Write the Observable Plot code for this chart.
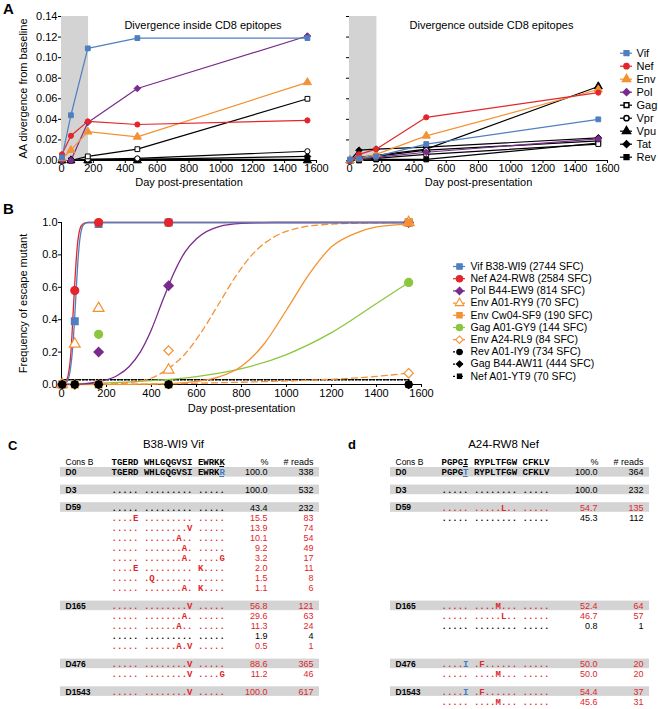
<!DOCTYPE html>
<html><head><meta charset="utf-8">
<script src="https://cdn.jsdelivr.net/npm/d3@7"></script>
<script src="https://cdn.jsdelivr.net/npm/@observablehq/plot@0.6"></script>
<style>
body{margin:0;background:#fff;}
#fig{position:relative;width:658px;height:709px;overflow:hidden;font-family:"Liberation Sans",Arial,Helvetica,sans-serif;}
.plet{position:absolute;font-weight:bold;color:#000;line-height:1;}
</style></head><body><div id="fig"></div>
<script>
// ---------------- DATA ----------------
const days = [3, 59, 165, 476, 1543];
const genes = ["Vif","Nef","Env","Pol","Gag","Vpr","Vpu","Tat","Rev"];
const xTicks = [0,200,400,600,800,1000,1200,1400,1600];
const yTicksA = [0,0.02,0.04,0.06,0.08,0.10,0.12,0.14];
const yTicksB = [0,0.2,0.4,0.6,0.8,1.0];
const shadeWindow = [0, 170];

// divergence inside CD8 epitopes
const inVif = [0.003, 0.044, 0.109, 0.119, 0.119];
const inNef = [0.006, 0.024, 0.038, 0.035, 0.039];
const inEnv = [0.002, 0.010, 0.028, 0.023, 0.076];
const inPol = [0, 0, 0.037, 0.070, 0.121];
const inGag = [0, 0, 0.004, 0.011, 0.060];
const inVpr = [0, 0, 0.001, 0.002, 0.009];
const inVpu = [0, 0, 0, 0, 0];
const inTat = [0, 0, 0.001, 0.001, 0.004];
const inRev = [0, 0, 0, 0.001, 0.001];
// divergence outside CD8 epitopes
const outVif = [0.001, 0.002, 0.004, 0.016, 0.040];
const outNef = [0, 0.006, 0.011, 0.042, 0.066];
const outEnv = [0, 0.002, 0.006, 0.024, 0.069];
const outPol = [0, 0.002, 0.003, 0.008, 0.021];
const outGag = [0, 0.001, 0.002, 0.006, 0.016];
const outVpr = [0, 0.002, 0.004, 0.010, 0.019];
const outVpu = [0, 0.003, 0.005, 0.011, 0.072];
const outTat = [0, 0.010, 0.011, 0.013, 0.022];
const outRev = [0, 0, 0.001, 0.001, 0.017];

// panel B: escape-mutant frequencies
const epitopes = ["Vif B38-WI9 (2744 SFC)","Nef A24-RW8 (2584 SFC)","Pol B44-EW9 (814 SFC)","Env A01-RY9 (70 SFC)","Env Cw04-SF9 (190 SFC)","Gag A01-GY9 (144 SFC)","Env A24-RL9 (84 SFC)","Rev A01-IY9 (734 SFC)","Gag B44-AW11 (444 SFC)","Nef A01-YT9 (70 SFC)"];
const escVif   = [0, 0.39, 0.99, 1.0, 1.0];
const escNef   = [0, 0.58, 1.0, 1.0, 1.0];
const escPol   = [0, 0, 0.20, 0.61, 1.0];
const escEnvRY = [0, 0.25, 0.47, 0.09, 1.0];
const escEnvSF = [0, 0, 0, 0, 1.0];
const escGagGY = [0, 0, 0.31, 0, 0.63];
const escEnvRL = [0, 0, 0, 0.21, 0.07];
const escRev   = [0, 0, 0, 0, 0];
const escGagAW = [0, 0, 0, 0, 0];
const escNefYT = [0, 0, 0, 0, 0];
// fitted curves: [day, frequency]
const fitVif = [[0,0],[20,0.01],[35,0.06],[48,0.2],[58,0.4],[66,0.6],[75,0.8],[85,0.93],[100,0.99],[120,1],[1543,1]];
const fitNef = [[0,0],[15,0.01],[30,0.06],[42,0.2],[52,0.45],[60,0.65],[70,0.85],[82,0.96],[95,0.99],[115,1],[1543,1]];
const fitPol = [[0,0],[100,0.004],[165,0.017],[250,0.057],[300,0.11],[350,0.2],[400,0.34],[450,0.52],[500,0.69],[550,0.82],[600,0.9],[700,0.975],[800,0.994],[950,1],[1543,1]];
const fitEnvRY = [[0,0],[200,0.003],[300,0.012],[400,0.04],[476,0.1],[550,0.19],[620,0.32],[700,0.5],[780,0.68],[860,0.82],[950,0.915],[1050,0.965],[1200,0.99],[1400,0.998],[1543,1]];
const fitEnvSF = [[0,0],[300,0.001],[500,0.007],[600,0.019],[700,0.047],[800,0.113],[900,0.25],[1000,0.46],[1100,0.68],[1200,0.85],[1300,0.93],[1400,0.973],[1543,0.99]];
const fitGagGY = [[0,0.003],[200,0.01],[400,0.024],[600,0.049],[800,0.098],[1000,0.185],[1200,0.32],[1400,0.5],[1543,0.63]];
const fitEnvRL = [[0,0],[400,0.003],[600,0.008],[800,0.014],[1000,0.022],[1200,0.032],[1400,0.05],[1543,0.07]];
const fitBlack = [[0,0.03],[1543,0.03]];

// panel C table
const cTitle = "B38-WI9 Vif";
const cCons = "TGERD WHLGQGVSI EWRKK";
const cLabels = ["D0","D3","D59","","","","","","","","","D165","","","","","D476","","D1543"];
const cSeqs = ["TGERD WHLGQGVSI EWRKR","..... ......... .....","..... ......... .....","....E ......... .....","..... ........V .....","..... ......A.. .....","..... .......A. .....","..... .......A. ....G","....E ......... K....","..... .Q....... .....","..... .......A. K....","..... ........V .....","..... .......A. .....","..... ......A.. .....","..... ......... .....","..... ......A.V .....","..... ........V .....","..... ........V ....G","..... ........V ....."];
const cPct = ["100.0","100.0","43.4","15.5","13.9","10.1","9.2","3.2","2.0","1.5","1.1","56.8","29.6","11.3","1.9","0.5","88.6","11.2","100.0"];
const cReads = [338,532,232,83,74,54,49,17,11,8,6,121,63,24,4,1,365,46,617];
const cTone = ["k","k","k","r","r","r","r","r","r","r","r","r","r","r","k","r","r","r","r"];
const cMarks = [{row:-1, idx:20, blue:false, under:true},{row:0, idx:20, blue:true, under:true}];
// panel d table
const dTitle = "A24-RW8 Nef";
const dCons = "PGPGI RYPLTFGW CFKLV";
const dLabels = ["D0","D3","D59","","D165","","","D476","","D1543",""];
const dSeqs = ["PGPGT RYPLTFGW CFKLV","..... ........ .....","..... .....L.. .....","..... ........ .....","..... ....M... .....","..... .....L.. .....","..... ........ .....","....I .F...... .....","..... ....M... .....","....I .F...... .....","..... ....M... ....."];
const dPct = ["100.0","100.0","54.7","45.3","52.4","46.7","0.8","50.0","50.0","54.4","45.6"];
const dReads = [364,232,135,112,64,57,1,20,20,37,31];
const dTone = ["k","k","r","k","r","r","k","r","r","r","r"];
const dMarks = [{row:-1, idx:4, blue:false, under:true},{row:0, idx:4, blue:true, under:true},{row:7, idx:4, blue:true, under:false},{row:9, idx:4, blue:true, under:false}];

// ---------------- STYLE ----------------
const SANS = "'Liberation Sans', Arial, Helvetica, sans-serif";
const MONO = "'Liberation Mono', 'Courier New', monospace";
const BLUE = "#4f7fc0", RED = "#e3262b", ORANGE = "#f39232", PURPLE = "#7a2a8c", GREEN = "#8cc63f";
const geneStyle = {
  Vif:{color:BLUE, symbol:"square", open:false},
  Nef:{color:RED, symbol:"circle", open:false},
  Env:{color:ORANGE, symbol:"triangle", open:false},
  Pol:{color:PURPLE, symbol:"diamond2", open:false},
  Gag:{color:"#000", symbol:"square", open:true},
  Vpr:{color:"#000", symbol:"circle", open:true},
  Vpu:{color:"#000", symbol:"triangle", open:false},
  Tat:{color:"#000", symbol:"diamond2", open:false},
  Rev:{color:"#000", symbol:"square", open:false}
};
const symR = {square:2.7, circle:2.6, triangle:3.0, diamond2:3.0};
const intFmt = d => String(d);

const fig = document.getElementById("fig");
function place(el, left, top){ el.style.position="absolute"; el.style.left=left+"px"; el.style.top=top+"px"; fig.appendChild(el); }
function letter(t, left, top, size){ const d=document.createElement("div"); d.className="plet"; d.textContent=t; d.style.fontSize=size+"px"; place(d,left,top); }

// ---------------- PANEL A ----------------
function divPlot(series, o){
  const rows = [];
  genes.forEach((g,i)=>series[i].forEach((v,j)=>rows.push({gene:g, day:days[j], v})));
  const order = genes.slice().reverse();
  const marks = [
    Plot.rect([shadeWindow], {x1:d=>d[0], x2:d=>d[1], y1:yTicksA[0], y2:yTicksA[yTicksA.length-1], fill:"#d3d3d3"})
  ];
  order.forEach(g=>{
    const st = geneStyle[g];
    marks.push(Plot.line(rows.filter(r=>r.gene===g), {x:"day", y:"v", stroke:st.color, strokeWidth:1.2}));
  });
  order.forEach(g=>{
    const st = geneStyle[g];
    marks.push(Plot.dot(rows.filter(r=>r.gene===g), {x:"day", y:"v", symbol:st.symbol, r:symR[st.symbol], fill:st.open?"#fff":st.color, stroke:st.color, strokeWidth:1}));
  });
  marks.push(Plot.text([o.title], {text:d=>d, frameAnchor:"top", dx:o.titleDx, dy:5, fontSize:11}));
  marks.push(Plot.text(["Day post-presentation"], {text:d=>d, frameAnchor:"bottom", dy:25, fontSize:11}));
  if (o.ylabel) marks.push(Plot.text([o.ylabel], {text:d=>d, frameAnchor:"left", textAnchor:"middle", dx:-38, rotate:-90, fontSize:11}));
  return Plot.plot({
    width:o.width, height:195, marginLeft:o.ml, marginRight:o.mr, marginTop:16, marginBottom:35,
    style:{fontFamily:SANS, fontSize:"11px", background:"transparent", overflow:"visible"},
    x:{domain:[0,1600], ticks:xTicks, tickFormat:intFmt, tickSize:3, tickPadding:1, line:true, label:null},
    y:{domain:[0,0.14], ticks:yTicksA, tickSize:3, tickPadding:1, line:true, label:null,
       tickFormat: o.ylabel ? d3.format(".2f") : ()=>""},
    marks
  });
}
place(divPlot([inVif,inNef,inEnv,inPol,inGag,inVpr,inVpu,inTat,inRev],
  {width:330, ml:61, mr:14, title:"Divergence inside CD8 epitopes", titleDx:14, ylabel:"AA divergence from baseline"}), 0, 0);
place(divPlot([outVif,outNef,outEnv,outPol,outGag,outVpr,outVpu,outTat,outRev],
  {width:328, ml:19, mr:51, title:"Divergence outside CD8 epitopes", titleDx:13, ylabel:null}), 330, 0);

// legend A
(function(){
  const marks = [];
  genes.forEach((g,i)=>{
    const st = geneStyle[g], y = 12.7 + 13*i;
    marks.push(Plot.ruleY([y], {y:d=>d, x1:8, x2:20, stroke:st.color, strokeWidth:1.2}));
    marks.push(Plot.dot([y], {x:14, y:d=>d, symbol:st.symbol, r:symR[st.symbol], fill:st.open?"#fff":st.color, stroke:st.color}));
    marks.push(Plot.text([g], {x:24, y:()=>y, text:d=>d, textAnchor:"start", fontSize:11}));
  });
  place(Plot.plot({width:46, height:125, margin:0, style:{fontFamily:SANS, background:"transparent", overflow:"visible"},
    x:{domain:[0,46], range:[0,46], axis:null}, y:{domain:[0,125], range:[0,125], axis:null}, marks}), 612, 40);
})();

// ---------------- PANEL B ----------------
const bSeries = [
  {vals:escVif, fit:fitVif, color:BLUE, symbol:"square", open:false, dash:null, r:3.8},
  {vals:escNef, fit:fitNef, color:RED, symbol:"circle", open:false, dash:null, r:4},
  {vals:escPol, fit:fitPol, color:PURPLE, symbol:"diamond2", open:false, dash:null, r:4.2},
  {vals:escEnvRY, fit:fitEnvRY, color:ORANGE, symbol:"triangle", open:true, dash:"6,4", r:4},
  {vals:escEnvSF, fit:fitEnvSF, color:ORANGE, symbol:"square", open:false, dash:null, r:3.8},
  {vals:escGagGY, fit:fitGagGY, color:GREEN, symbol:"circle", open:false, dash:null, r:4},
  {vals:escEnvRL, fit:fitEnvRL, color:ORANGE, symbol:"diamond2", open:true, dash:"6,4", r:4.2},
  {vals:escRev, fit:fitBlack, color:"#000", symbol:"circle", open:false, dash:"1.5,2", r:3.4},
  {vals:escGagAW, fit:fitBlack, color:"#000", symbol:"diamond2", open:false, dash:"1.5,2", r:3.6},
  {vals:escNefYT, fit:fitBlack, color:"#000", symbol:"square", open:false, dash:"1.5,2", r:3.0}
];
(function(){
  const marks = [];
  bSeries.slice().reverse().forEach(s=>{
    marks.push(Plot.line(s.fit, {x:d=>d[0], y:d=>d[1], curve:"monotone-x", stroke:s.color, strokeWidth:1.3, strokeDasharray:s.dash}));
  });
  bSeries.forEach(s=>{
    const pts = s.vals.map((v,j)=>({day:days[j], v}));
    marks.push(Plot.dot(pts, {x:"day", y:"v", symbol:s.symbol, r:s.r, fill:s.open?"#fff":s.color, stroke:s.color, strokeWidth:1.2}));
  });
  marks.push(Plot.text(["Day post-presentation"], {text:d=>d, frameAnchor:"bottom", dy:27, fontSize:11}));
  marks.push(Plot.text(["Frequency of escape mutant"], {text:d=>d, frameAnchor:"left", textAnchor:"middle", dx:-38, rotate:-90, fontSize:11}));
  place(Plot.plot({
    width:440, height:220, marginLeft:61, marginRight:19, marginTop:22, marginBottom:36,
    style:{fontFamily:SANS, fontSize:"11px", background:"transparent", overflow:"visible"},
    x:{domain:[0,1600], ticks:xTicks, tickFormat:intFmt, tickSize:3, tickPadding:2, line:true, label:null},
    y:{domain:[0,1], ticks:yTicksB, tickFormat:d3.format(".1f"), tickSize:3, tickPadding:1, line:true, label:null},
    marks
  }), 0, 200);
  // legend B
  const lm = [];
  bSeries.forEach((s,i)=>{
    const y = 8 + 12.2*i;
    lm.push(Plot.ruleY([y], {y:d=>d, x1:3, x2:15, stroke:s.color, strokeWidth:1.2, strokeDasharray:s.dash ? (s.color==="#000" ? "2,2" : "3,2") : null}));
    lm.push(Plot.dot([y], {x:9, y:d=>d, symbol:s.symbol, r:s.r*0.8, fill:s.open?"#fff":s.color, stroke:s.color, strokeWidth:1.1}));
    lm.push(Plot.text([epitopes[i]], {x:20, y:()=>y, text:d=>d, textAnchor:"start", fontSize:10.5}));
  });
  place(Plot.plot({width:208, height:130, margin:0, style:{fontFamily:SANS, background:"transparent", overflow:"visible"},
    x:{domain:[0,208], range:[0,208], axis:null}, y:{domain:[0,130], range:[0,130], axis:null}, marks:lm}), 450, 258);
})();

// ---------------- PANELS C & d ----------------
const ROW = 10.1, GAP = 7.5, FIRST = 472;
const groupY = (()=>{ const sizes=[]; cLabels.forEach(l=>{ if(l) sizes.push(1); else sizes[sizes.length-1]++; });
  const ys=[FIRST]; for(let i=1;i<sizes.length;i++) ys.push(ys[i-1]+sizes[i-1]*ROW+GAP); return ys; })();
const FS = 9, CW = FS*0.6; // monospace char width
function seqTable(o){
  const L = o.left, SX = L+111;
  const rows = []; let g=-1, sub=0;
  o.labels.forEach((lab,i)=>{ if(lab){g++; sub=0;} else sub++; rows.push({i, lab, y:groupY[g]+sub*ROW, tone:o.tone[i]}); });
  const hdrY = FIRST - 10;
  const col = t => t==="r" ? "#e0262c" : "#000";
  const nbsp = s => s.replace(/ /g, "\u00a0");
  // sequence segments (split around highlighted residues)
  const segs = [];
  const addSeq = (s, y, color, ri) => {
    const h = o.hl.find(m=>m.row===ri);
    if (!h) { segs.push({x:SX, y, t:s, c:color}); return; }
    if (h.idx>0) segs.push({x:SX, y, t:s.slice(0,h.idx), c:color});
    segs.push({x:SX+h.idx*CW, y, t:s[h.idx], c:h.blue?"#3a7cc6":color, h});
    if (h.idx<s.length-1) segs.push({x:SX+(h.idx+1)*CW, y, t:nbsp(s.slice(h.idx+1)), c:color});
  };
  addSeq(o.cons, hdrY, "#000", -1);
  rows.forEach(r=>addSeq(o.seqs[r.i], r.y, col(r.tone), r.i));
  const unders = segs.filter(s=>s.h && s.h.under);
  const marks = [
    Plot.rect(rows.filter(r=>r.lab), {x1:L+60, x2:L+319, y1:r=>r.y-5, y2:r=>r.y+4.6, fill:"#d4d4d4"}),
    Plot.text([o.title], {x:L+173, y:()=>444, text:d=>d, fontSize:11.5, fontFamily:SANS}),
    Plot.text(["Cons B"], {x:L+65, y:()=>hdrY, text:d=>d, textAnchor:"start", fontSize:8.5, fontFamily:SANS}),
    Plot.text(["%"], {x:L+264, y:()=>hdrY, text:d=>d, textAnchor:"middle", fontSize:9, fontFamily:SANS}),
    Plot.text(["# reads"], {x:L+313, y:()=>hdrY, text:d=>d, textAnchor:"end", fontSize:9, fontFamily:SANS}),
    Plot.text(rows.filter(r=>r.lab), {x:L+65, y:"y", text:"lab", textAnchor:"start", fontSize:8.5, fontWeight:"bold", fontFamily:SANS}),
    Plot.text(segs, {x:"x", y:"y", text:"t", fill:"c", textAnchor:"start", fontSize:FS, fontWeight:"bold", fontFamily:MONO}),
    Plot.ruleY(unders, {y:s=>s.y+4, x1:s=>s.x+0.3, x2:s=>s.x+CW-0.3, stroke:"c", strokeWidth:1}),
    Plot.text(rows, {x:L+267, y:"y", text:r=>o.pct[r.i], textAnchor:"end", fontSize:9, fontFamily:SANS, fill:r=>col(r.tone)}),
    Plot.text(rows, {x:L+313, y:"y", text:r=>String(o.reads[r.i]), textAnchor:"end", fontSize:9, fontFamily:SANS, fill:r=>col(r.tone)})
  ];
  return Plot.plot({width:o.width, height:279, margin:0, style:{fontFamily:SANS, background:"transparent", overflow:"visible"},
    x:{domain:[L, L+o.width], range:[0,o.width], axis:null}, y:{domain:[430,709], range:[0,279], axis:null}, marks});
}
place(seqTable({left:0, width:330, title:cTitle, cons:cCons, labels:cLabels, seqs:cSeqs, pct:cPct, reads:cReads, tone:cTone, hl:cMarks}), 0, 430);
place(seqTable({left:330, width:328, title:dTitle, cons:dCons, labels:dLabels, seqs:dSeqs, pct:dPct, reads:dReads, tone:dTone, hl:dMarks}), 330, 430);

// panel letters
letter("A", 3, 1, 15);
letter("B", 3, 201, 15);
letter("C", 8, 439, 13);
letter("d", 348, 438, 13);
</script></body></html>
